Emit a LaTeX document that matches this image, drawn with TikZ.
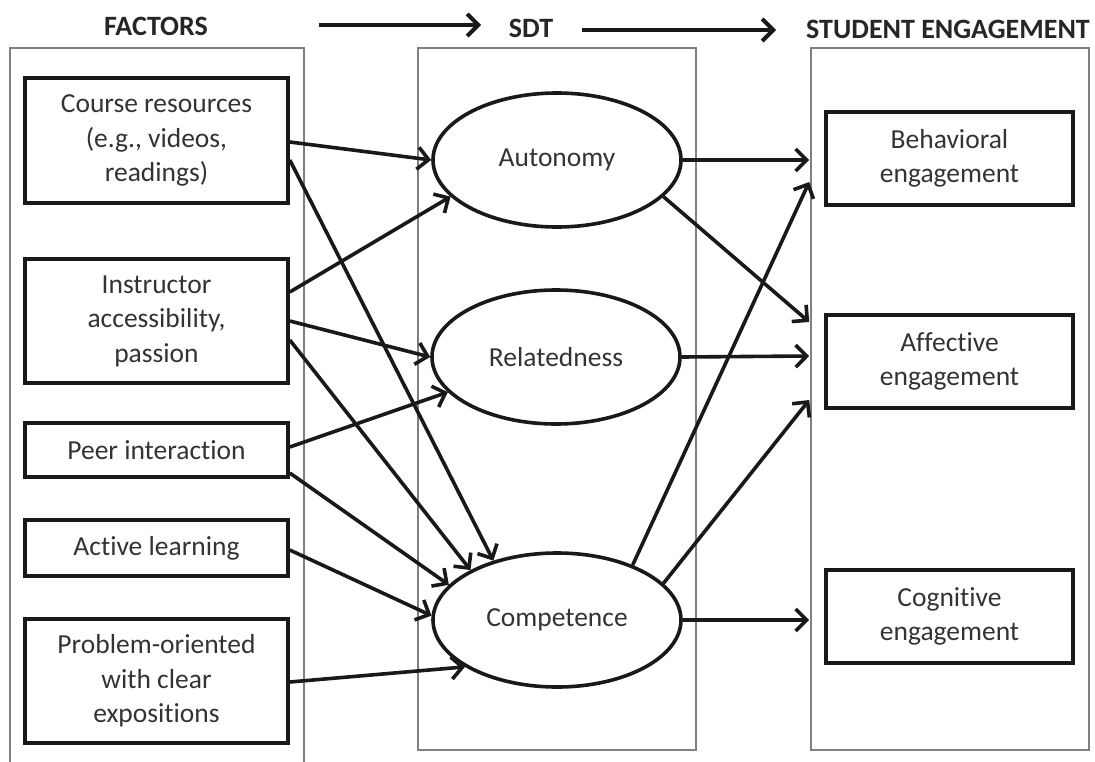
\documentclass[tikz,border=0pt]{standalone}
\usepackage{fontspec}
\setmainfont{Carlito}[Ligatures=NoCommon]
\usetikzlibrary{arrows.meta,shapes.geometric}
\begin{document}
\begin{tikzpicture}[x=1pt,y=-1pt,
  every node/.style={font=\fontsize{27.5}{34.5}\selectfont, text=black!80},
  panel/.style={draw=black!50, line width=2pt},
  box/.style={draw=black!90, line width=3.6pt, minimum width=263pt, inner sep=0pt, align=center},
  rbox/.style={box, minimum width=247pt, minimum height=93pt},
  oval/.style={ellipse, draw=black!90, line width=3.6pt, minimum width=248pt, minimum height=134pt, inner sep=0pt},
  arr/.style={draw=black!90, line width=3.6pt, -{Straight Barb[length=11pt,width=22pt]}},
  head/.style={font=\fontsize{28}{34}\selectfont\bfseries, text=black!85}
]
\useasboundingbox (0,0) rectangle (1095,761);

% headings
\node[head] (hF) at (156,26) {FACTORS};
\node[head] (hS) at (531,28) {SDT};
\node[head] (hE) at (948,29) {STUDENT ENGAGEMENT};
\coordinate (a1s) at (319,25);
\coordinate (a1e) at (481,25);
\coordinate (a2s) at (582,30);
\coordinate (a2e) at (776,30);
\draw[arr, line width=4pt] (a1s) -- (a1e);
\draw[arr, line width=4pt] (a2s) -- (a2e);

% panels
\draw[panel] (10,770) -- (10,48) -- (304,48) -- (304,770);
\draw[panel] (418,48) rectangle (696,750);
\draw[panel] (811,48) rectangle (1089,750);

% factors
\node[box, minimum height=125pt] (cr) at (156.5,140.5) {Course resources\\(e.g., videos,\\readings)};
\node[box, minimum height=124pt] (ia) at (156.5,321) {Instructor\\accessibility,\\passion};
\node[box, minimum height=54pt] (pi) at (156.5,450) {Peer interaction};
\node[box, minimum height=56pt] (al) at (156.5,548) {Active learning};
\node[box, minimum height=124pt] (po) at (156.5,681) {Problem-oriented\\with clear\\expositions};

% SDT
\node[oval] (aut) at (557,160) {Autonomy};
\node[oval] (rel) at (556,357) {Relatedness};
\node[oval] (com) at (557,620) {Competence};

% engagement
\node[rbox] (beh) at (949.5,158.5) {Behavioral\\engagement};
\node[rbox] (aff) at (949.5,361.5) {Affective\\engagement};
\node[rbox] (cog) at (949.5,616.5) {Cognitive\\engagement};

% factor -> SDT
\draw[arr] ([yshift=-1.5pt]cr.east) -- (aut.west);
\draw[arr] ([yshift=-19.5pt]cr.east) -- (com.137);
\draw[arr] ([yshift=29pt]ia.east) -- (aut.199);
\draw[arr] (ia.east) -- (rel.west);
\draw[arr] ([yshift=-19pt]ia.east) -- (com.150);
\draw[arr] ([yshift=3pt]pi.east) -- (rel.198);
\draw[arr] ([yshift=-23pt]pi.east) -- (com.162);
\draw[arr] ([yshift=-2pt]al.east) -- (com.178);
\draw[arr] ([yshift=-1pt]po.east) -- (com.207);

% SDT -> engagement
\draw[arr] (aut.east) -- ([xshift=-15pt,yshift=-1.5pt]beh.west);
\draw[arr] (com.36) -- ([xshift=-15pt,yshift=-23.5pt]beh.west);
\draw[arr] (aut.-19) -- ([xshift=-15pt,yshift=39.5pt]aff.west);
\draw[arr] (rel.east) -- ([xshift=-15pt,yshift=5.5pt]aff.west);
\draw[arr] (com.19) -- ([xshift=-15pt,yshift=-38.5pt]aff.west);
\draw[arr] (com.east) -- ([xshift=-15pt,yshift=-3.5pt]cog.west);
\end{tikzpicture}
\end{document}
